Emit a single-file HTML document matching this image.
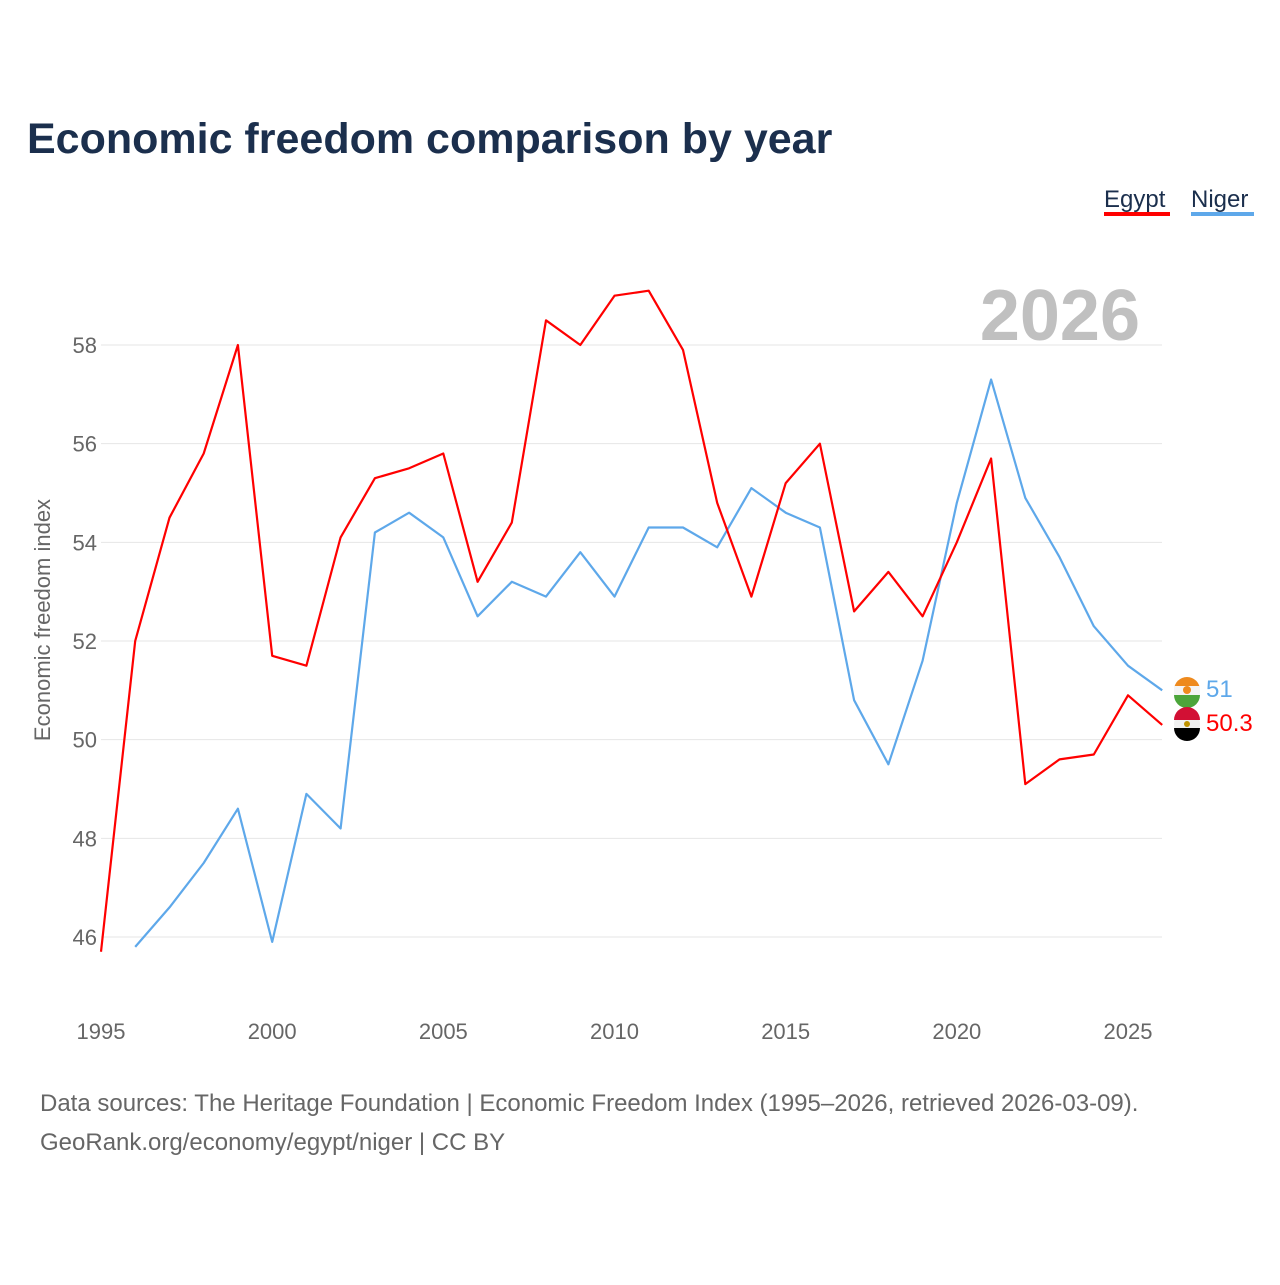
<!DOCTYPE html>
<html><head><meta charset="utf-8"><style>
body{margin:0;background:#fff;font-family:"Liberation Sans",sans-serif}
</style></head><body>
<svg width="1280" height="1280" viewBox="0 0 1280 1280" id="chart">
<rect width="1280" height="1280" fill="#fff"/>
<text x="27" y="153" font-size="43" font-weight="bold" fill="#1b2f4d">Economic freedom comparison by year</text>
<g>
<text x="1104" y="207" font-size="24" fill="#1b2f4d">Egypt</text>
<rect x="1104" y="212" width="66" height="4" fill="#ff0000"/>
<text x="1191" y="207" font-size="24" fill="#1b2f4d">Niger</text>
<rect x="1191" y="212" width="63" height="4" fill="#5ea8ea"/>
</g>
<text x="1140" y="340" font-size="72" font-weight="bold" fill="#c0c0c0" text-anchor="end">2026</text>
<g id="grid"></g><g id="xt"></g><g id="series"></g>
<text transform="translate(50,620) rotate(-90)" font-size="22" fill="#666" text-anchor="middle">Economic freedom index</text>
<g>
<circle cx="1187" cy="690" r="13" fill="#ee8a1e"/><rect x="1174" y="686" width="26" height="9" fill="#f4f4f4"/><path d="M1174 695 h26 a13 13 0 0 1 -26 0z" fill="#4ca53a"/><circle cx="1187" cy="690" r="4" fill="#ee8a1e"/>
<circle cx="1187" cy="724" r="13" fill="#f0f0f0"/><path d="M1174 720 a13 13 0 0 1 26 0z" fill="#d21034"/><path d="M1174 728 h26 a13 13 0 0 1 -26 0z" fill="#000"/><circle cx="1187" cy="724" r="3" fill="#c09300"/>
<text x="1206" y="697" font-size="24" fill="#5ea8ea">51</text>
<text x="1206" y="731" font-size="24" fill="#ff0000">50.3</text>
</g>
<text x="40" y="1111" font-size="24" fill="#666">Data sources: The Heritage Foundation | Economic Freedom Index (1995–2026, retrieved 2026-03-09).</text>
<text x="40" y="1150" font-size="24" fill="#666">GeoRank.org/economy/egypt/niger | CC BY</text>
</svg>
<script>
const years=[1995,1996,1997,1998,1999,2000,2001,2002,2003,2004,2005,2006,2007,2008,2009,2010,2011,2012,2013,2014,2015,2016,2017,2018,2019,2020,2021,2022,2023,2024,2025,2026];
const egypt=[45.7,52.0,54.5,55.8,58.0,51.7,51.5,54.1,55.3,55.5,55.8,53.2,54.4,58.5,58.0,59.0,59.1,57.9,54.8,52.9,55.2,56.0,52.6,53.4,52.5,54.0,55.7,49.1,49.6,49.7,50.9,50.3];
const niger=[null,45.8,46.6,47.5,48.6,45.9,48.9,48.2,54.2,54.6,54.1,52.5,53.2,52.9,53.8,52.9,54.3,54.3,53.9,55.1,54.6,54.3,50.8,49.5,51.6,54.8,57.3,54.9,53.7,52.3,51.5,51.0];
const yTicks=[46,48,50,52,54,56,58];
const xTicks=[1995,2000,2005,2010,2015,2020,2025];
const NS="http://www.w3.org/2000/svg";
const xs=y=>101+(y-1995)*(1128-101)/30;
const ys=v=>937-(v-46)*(937-345)/12;
function mk(t,a,p){const e=document.createElementNS(NS,t);for(const k in a)e.setAttribute(k,a[k]);p.appendChild(e);return e;}
const g=document.getElementById('grid');
yTicks.forEach(v=>{
 const l=mk('line',{x1:101,x2:1162,y1:ys(v),y2:ys(v),stroke:'#e6e6e6','stroke-width':1},g);
 
 
 const t=mk('text',{x:97,y:ys(v)+8,'font-size':22,fill:'#666','text-anchor':'end'},g);
 t.textContent=v;
 
 
});
const xt=document.getElementById('xt');
xTicks.forEach(v=>{
 const t=mk('text',{x:xs(v),y:1039,'font-size':22,fill:'#666','text-anchor':'middle'},xt);
 t.textContent=v;
 
 
});
const s=document.getElementById('series');
function line(vals,col,name){
 let d='';vals.forEach((v,i)=>{if(v==null)return;d+=(d?'L':'M')+xs(years[i]).toFixed(1)+' '+ys(v).toFixed(1);});
 const p=mk('path',{d:d,fill:'none',stroke:col,'stroke-width':2.2,'stroke-linejoin':'round'},s);
 
 
}
line(niger,'#5ea8ea','niger-line');
line(egypt,'#ff0000','egypt-line');
</script>
</body></html>
